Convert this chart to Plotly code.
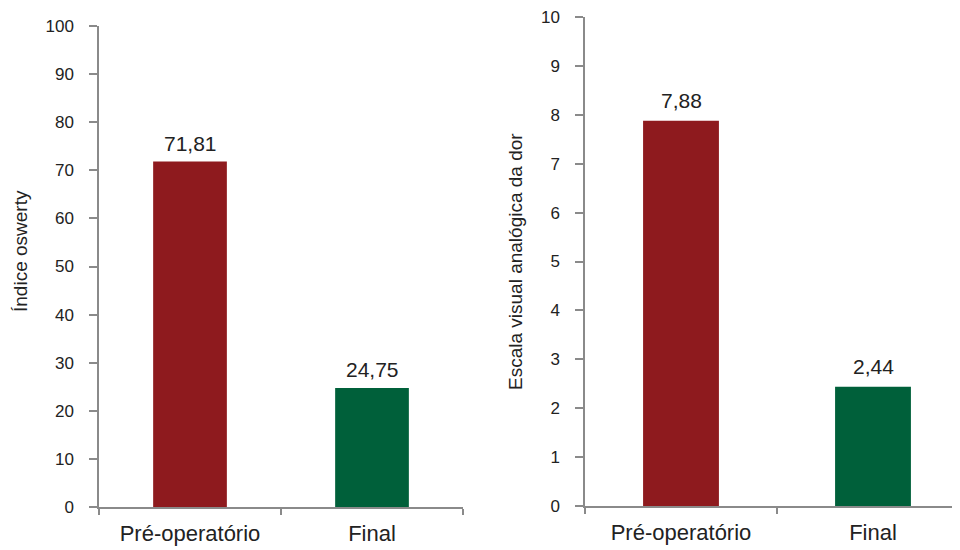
import plotly.graph_objects as go

categories = ["Pré-operatório", "Final"]
oswestry_values = [71.81, 24.75]
oswestry_labels = ["71,81", "24,75"]
eva_values = [7.88, 2.44]
eva_labels = ["7,88", "2,44"]
bar_colors = ["#8E1A1E", "#00603A"]
left_ticks = [0, 10, 20, 30, 40, 50, 60, 70, 80, 90, 100]
right_ticks = [0, 1, 2, 3, 4, 5, 6, 7, 8, 9, 10]
left_title = "Índice oswerty"
right_title = "Escala visual analógica da dor"

# page body has an 8px margin: work in figure coordinates = screen - 8
OFF = 8
W, H = 960 - OFF, 550 - OFF
FONT = "Liberation Sans, Arial, sans-serif"
AXC = "#8a8a8a"
TXT = "#222222"


def px(sx):
    return (sx - OFF) / W


def py(sy):
    return (H - (sy - OFF)) / H


fig = go.Figure()
fig.add_trace(go.Bar(x=categories, y=oswestry_values, width=0.405,
                     marker=dict(color=bar_colors, line=dict(width=0)),
                     xaxis="x", yaxis="y", showlegend=False, hoverinfo="x+y"))
fig.add_trace(go.Bar(x=categories, y=eva_values, width=0.395,
                     marker=dict(color=bar_colors, line=dict(width=0)),
                     xaxis="x2", yaxis="y2", showlegend=False, hoverinfo="x+y"))

xcommon = dict(type="category", showline=True, linecolor=AXC, linewidth=1.5,
               ticks="outside", ticklen=6, tickcolor=AXC, tickwidth=1.5,
               tickson="boundaries", showgrid=False, zeroline=False,
               automargin=False, ticklabelstandoff=6, ticklabeloverflow="allow",
               tickfont=dict(size=22, color=TXT, family=FONT))
ycommon = dict(showline=True, linecolor=AXC, linewidth=1.5, ticks="outside",
               ticklen=8, tickcolor=AXC, tickwidth=1.5, showgrid=False,
               zeroline=False, ticklabelstandoff=12, automargin=False,
               ticklabeloverflow="allow",
               tickfont=dict(size=17, color=TXT, family=FONT))

annotations = [
    dict(text=left_title, textangle=-90, x=px(20), y=py(251),
         xref="paper", yref="paper", xanchor="center", yanchor="middle",
         showarrow=False, font=dict(size=19, color=TXT, family=FONT)),
    dict(text=right_title, textangle=-90, x=px(515), y=py(262),
         xref="paper", yref="paper", xanchor="center", yanchor="middle",
         showarrow=False, font=dict(size=19, color=TXT, family=FONT)),
]
for c, v, t in zip(categories, oswestry_values, oswestry_labels):
    annotations.append(dict(text=t, x=c, y=v, xref="x", yref="y", yanchor="bottom",
                            yshift=5, showarrow=False,
                            font=dict(size=21, color=TXT, family=FONT)))
for c, v, t in zip(categories, eva_values, eva_labels):
    annotations.append(dict(text=t, x=c, y=v, xref="x2", yref="y2", yanchor="bottom",
                            yshift=7, showarrow=False,
                            font=dict(size=21, color=TXT, family=FONT)))

fig.update_layout(
    width=W, height=H, margin=dict(l=0, r=0, t=0, b=0, autoexpand=False),
    paper_bgcolor="white", plot_bgcolor="white",
    font=dict(family=FONT, color=TXT),
    xaxis=dict(xcommon, domain=[px(99), px(463)], range=[-0.5, 1.5], anchor="y"),
    yaxis=dict(ycommon, domain=[py(507), py(26)], range=[0, 100],
               tickvals=left_ticks, anchor="x"),
    xaxis2=dict(xcommon, domain=[px(585), 1.0], range=[-0.5, -0.5 + 375 / 192], anchor="y2"),
    yaxis2=dict(ycommon, domain=[py(506), py(17)], range=[0, 10],
                tickvals=right_ticks, anchor="x2"),
    annotations=annotations,
)

fig.write_html("out.html")
